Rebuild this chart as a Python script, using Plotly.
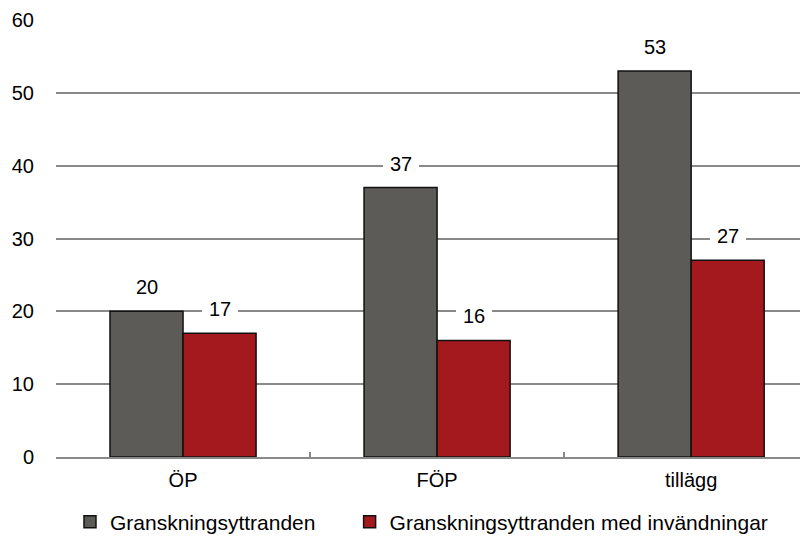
import plotly.graph_objects as go

categories = ["ÖP", "FÖP", "tillägg"]
series_names = ["Granskningsyttranden", "Granskningsyttranden med invändningar"]
values_all = [20, 37, 53]
values_obj = [17, 16, 27]
y_ticks = [0, 10, 20, 30, 40, 50, 60]

colors = ["#5c5b57", "#a3191d"]
FONT = "Liberation Sans, Arial, sans-serif"
FS = 20
NBSP = "\u00a0"

fig = go.Figure()
for i, (name, vals, col) in enumerate(zip(series_names, [values_all, values_obj], colors)):
    legend_name = name + (NBSP * 5 if i == 0 else "")
    fig.add_trace(go.Bar(
        x=categories, y=vals, name=legend_name,
        marker=dict(color=col, line=dict(color="#111111", width=1.5)),
    ))

# value labels with white background (interrupt gridlines)
for vals, shift in [(values_all, -36.5), (values_obj, 36.5)]:
    for c, v in zip(categories, vals):
        fig.add_annotation(
            x=c, y=v, text=str(v), showarrow=False, xshift=shift, yshift=24,
            bgcolor="white", borderpad=7, borderwidth=0,
            font=dict(family=FONT, size=FS, color="#000000"),
        )

# page body has an 8px margin; figure sized so plot lands where reference has it
fig.update_layout(
    width=800, height=534,
    margin=dict(l=48, r=0, t=12, b=85, autoexpand=False),
    paper_bgcolor="white", plot_bgcolor="white",
    barmode="group", bargap=0.425, bargroupgap=0,
    font=dict(family=FONT, size=FS, color="#000000"),
    showlegend=True,
    legend=dict(orientation="h", x=0.0186, xanchor="left", y=-0.149, yanchor="middle",
                font=dict(family=FONT, size=21, color="#000000"),
                itemwidth=30, traceorder="normal"),
    xaxis=dict(
        range=[-0.5, 2.46], showline=True, linecolor="#898989", linewidth=1.5,
        ticks="inside", tickson="boundaries", ticklen=5, tickcolor="#898989", tickwidth=1.5,
        showgrid=False, automargin=False, ticklabelstandoff=4,
        tickfont=dict(family=FONT, size=FS, color="#000000"),
    ),
    yaxis=dict(
        range=[0, 60], tickvals=y_ticks, showgrid=True, gridcolor="#898989", gridwidth=1.5,
        zeroline=False, showline=False, ticks="", ticklabelstandoff=21, automargin=False,
        tickfont=dict(family=FONT, size=FS, color="#000000"),
    ),
)

fig.write_html("out.html")
